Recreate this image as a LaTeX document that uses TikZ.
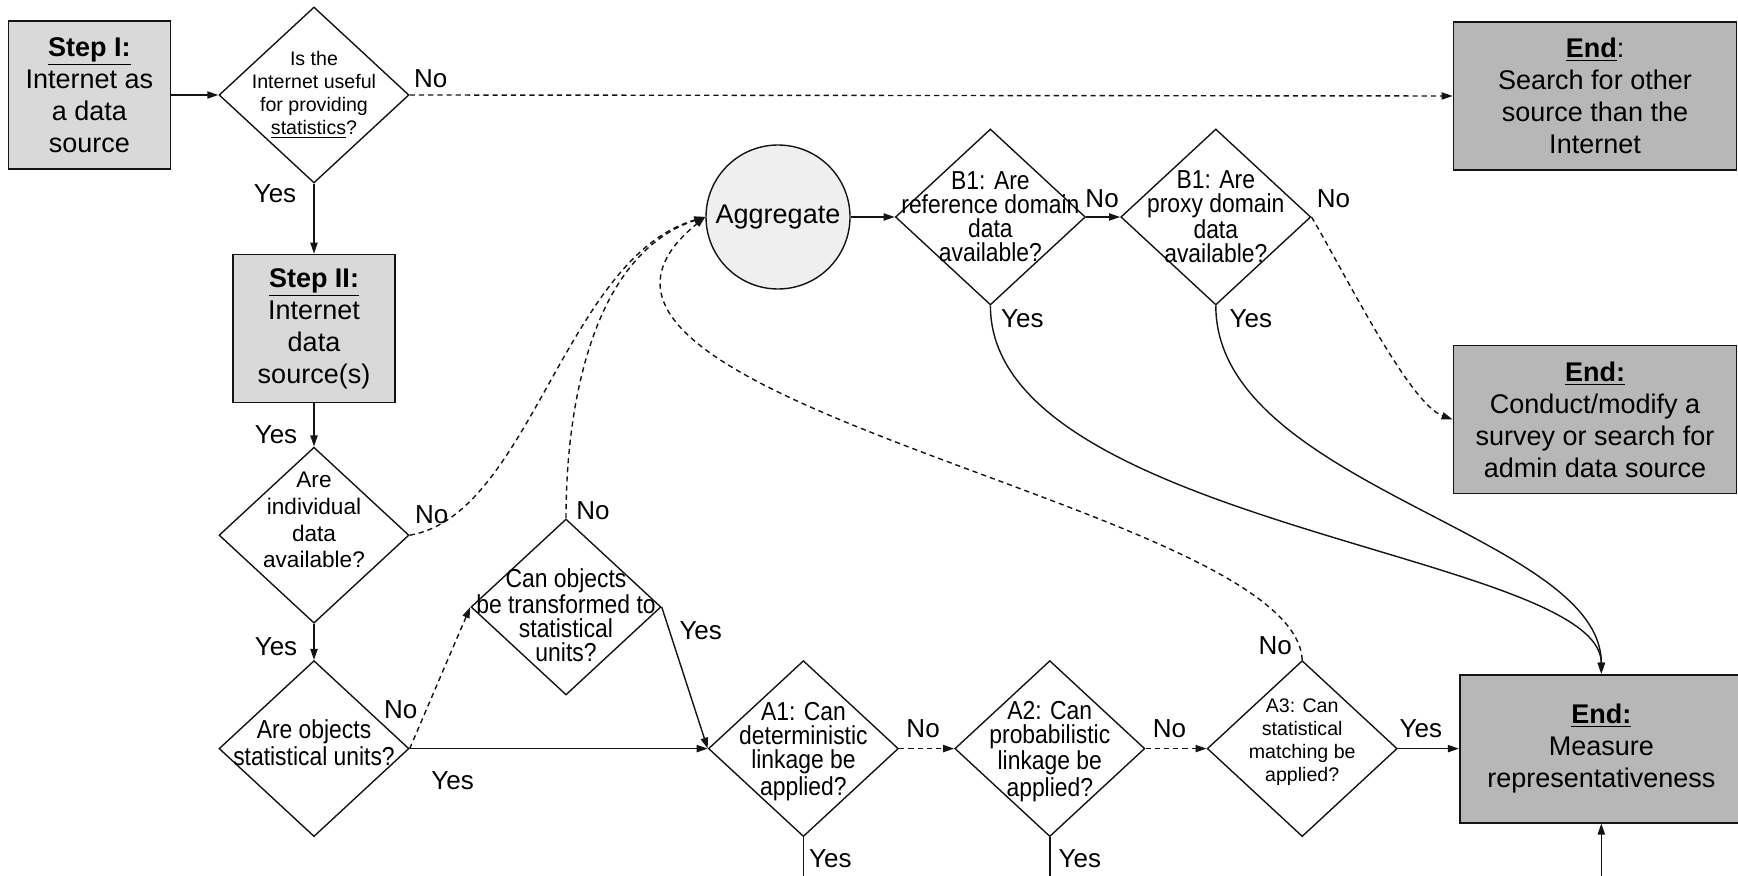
\documentclass[tikz,border=0pt]{standalone}
\usepackage{fontspec}
\setmainfont{Liberation Sans}
\newfontfamily\narrowfont[FakeStretch=0.88]{Liberation Sans}
\usetikzlibrary{arrows.meta,positioning,shapes.geometric}
\definecolor{stepGray}{RGB}{217,217,217}
\definecolor{endGray}{RGB}{183,183,183}
\definecolor{aggGray}{RGB}{239,239,239}
\definecolor{lineInk}{RGB}{20,20,20}
\tikzset{
  stepbox/.style={draw=lineInk, line width=0.9pt, fill=stepGray, align=center, minimum width=81pt, minimum height=74pt, inner sep=0pt, font=\fontsize{13.5}{16}\selectfont},
  endbox/.style={stepbox, fill=endGray, minimum width=141.5pt},
  aggnode/.style={circle, draw=lineInk, line width=0.7pt, fill=aggGray, minimum size=72pt, inner sep=0pt, font=\fontsize{13.5}{15.5}\selectfont},
  decision/.style={diamond, draw=lineInk, line width=0.7pt, minimum width=95pt, minimum height=88pt, inner sep=0pt},
  qtext/.style={align=center, inner sep=0pt, font=\fontsize{9.8}{11.5}\selectfont},
  ntext/.style={align=center, inner sep=0pt, font=\narrowfont\fontsize{13}{12}\selectfont},
  lbl/.style={inner sep=0pt, font=\fontsize{13}{13}\selectfont},
  flow/.style={-{Triangle[length=5.5pt,width=3.6pt]}, line width=0.7pt, draw=lineInk},
  dashflow/.style={flow, dash pattern=on 2.6pt off 2pt},
  plainline/.style={line width=0.7pt, draw=lineInk}
}

\begin{document}
\begin{tikzpicture}[x=1pt, y=1pt]
  \useasboundingbox (0,0) rectangle (869,-438);
  \node[decision] (q1) at (157,-47.5) {};
  \node[qtext] (q1t) at (q1) {Is the\\Internet useful\\for providing\\\underline{statistics}?};
  \node[stepbox, left=23.5pt of q1] (stepI) {\underline{\textbf{Step I:}}\\Internet as\\a data\\source};
  \node[endbox] (endI) at (797.5,-48) {\underline{\textbf{End}}:\\Search for other\\source than the\\Internet};
  \node[stepbox, below=35pt of q1] (stepII) {\underline{\textbf{Step II:}}\\Internet\\data\\source(s)};
  \node[decision, below=21.5pt of stepII] (q2) {};
  \node[qtext, font=\fontsize{11.3}{13.3}\selectfont] (q2t) at ([yshift=7.5pt]q2) {Are\\individual\\data\\available?};
  \node[decision, below=18pt of q2] (q3) {};
  \node[ntext] (q3t) at ([yshift=3pt]q3) {Are objects\\statistical units?};
  \node[decision] (q4) at (283,-303.5) {};
  \node[ntext] (q4t) at ([yshift=-4pt]q4) {Can objects\\be transformed to\\statistical\\units?};
  \node[decision, right=149pt of q3] (a1) {};
  \node[ntext] (a1t) at ([yshift=-1.5pt]a1) {A1: Can\\deterministic\\linkage be\\applied?};
  \node[decision, right=27.5pt of a1] (a2) {};
  \node[ntext] (a2t) at ([yshift=-1.5pt]a2) {A2: Can\\probabilistic\\linkage be\\applied?};
  \node[decision, right=30.5pt of a2] (a3) {};
  \node[qtext] (a3t) at ([yshift=3pt]a3) {A3: Can\\statistical\\matching be\\applied?};
  \node[endbox, right=30.5pt of a3] (endM) {\underline{\textbf{End:}}\\Measure\\representativeness};
  \node[aggnode] (agg) at (389,-108.5) {Aggregate};
  \node[decision, right=22pt of agg] (b1) {};
  \node[ntext] (b1t) at (b1) {B1: Are\\reference domain\\data\\available?};
  \node[decision, right=17pt of b1] (b2) {};
  \node[ntext] (b2t) at (b2) {B1: Are\\proxy domain\\data\\available?};
  \node[endbox] (endII) at (797.5,-209.75) {\underline{\textbf{End:}}\\Conduct/modify a\\survey or search for\\admin data source};
  \coordinate (a1end) at (a1.south |- 0,-438);
  \coordinate (a2end) at (a2.south |- 0,-438);
  \coordinate (mEnd) at (endM.south |- 0,-438);

  \draw[flow] (stepI.east) -- (q1.west);
  \draw[dashflow] (q1.east) -- (endI.west);
  \draw[flow] (q1.south) -- (stepII.north);
  \draw[flow] (stepII.south) -- (q2.north);
  \draw[flow] (q2.south) -- (q3.north);
  \draw[flow] (q3.east) -- (a1.west);
  \draw[dashflow] (q3.east) -- (q4.west);
  \draw[flow] (q4.east) -- (a1.west);
  \draw[dashflow] (a1.east) -- (a2.west);
  \draw[dashflow] (a2.east) -- (a3.west);
  \draw[flow] (a3.east) -- (endM.west);
  \draw[flow] (agg.east) -- (b1.west);
  \draw[flow] (b1.east) -- (b2.west);
  \draw[dashflow] (b2.east) .. controls +(15,-25) and +(-22,8) .. (endII.west);
  \draw[flow] (b1.south) .. controls +(0,-110) and +(0,60) .. (endM.north);
  \draw[flow] (b2.south) .. controls +(0,-90) and +(0,70) .. (endM.north);
  \draw[dashflow] (q2.east) .. controls +(60,10) and +(-70,-20) .. (agg.west);
  \draw[dashflow] (q4.north) .. controls +(0,60) and +(-55,-18) .. (agg.west);
  \draw[dashflow] (a3.north) .. controls +(-4,78) and +(-113,-91.5) .. (agg.west);
  \draw[plainline] (a1.south) -- (a1end);
  \draw[plainline] (a2.south) -- (a2end);
  \draw[flow] (mEnd) -- (endM.south);

  \node[lbl] (q1no) at ([shift={(10.5,8)}]q1.east) {No};
  \node[lbl] (q1yes) at ([shift={(-19.5,-5)}]q1.south) {Yes};
  \node[lbl] (q2yes) at ([shift={(-19,6)}]q2.north) {Yes};
  \node[lbl] (q2no) at ([shift={(11,10.5)}]q2.east) {No};
  \node[lbl] (q3yes) at ([shift={(-19,6.6)}]q3.north) {Yes};
  \node[lbl] (q3no) at ([shift={(-4.5,19.5)}]q3.east) {No};
  \node[lbl] (q3yesb) at ([shift={(21.5,-16)}]q3.east) {Yes};
  \node[lbl] (q4no) at ([shift={(13.5,4)}]q4.north) {No};
  \node[lbl] (q4yes) at ([shift={(19.5,-11.8)}]q4.east) {Yes};
  \node[lbl] (a1no) at ([shift={(12,10)}]a1.east) {No};
  \node[lbl] (a2no) at ([shift={(12,10)}]a2.east) {No};
  \node[lbl] (a3yes) at ([shift={(11.5,10)}]a3.east) {Yes};
  \node[lbl] (a3no) at ([shift={(-13.5,7)}]a3.north) {No};
  \node[lbl] (a1yes) at ([shift={(13.5,-10.7)}]a1.south) {Yes};
  \node[lbl] (a2yes) at ([shift={(15,-10.7)}]a2.south) {Yes};
  \node[lbl] (b1no) at ([shift={(8,9)}]b1.east) {No};
  \node[lbl] (b2no) at ([shift={(11,9)}]b2.east) {No};
  \node[lbl] (b1yes) at ([shift={(16,-6.5)}]b1.south) {Yes};
  \node[lbl] (b2yes) at ([shift={(17.5,-6.5)}]b2.south) {Yes};
\end{tikzpicture}
\end{document}
